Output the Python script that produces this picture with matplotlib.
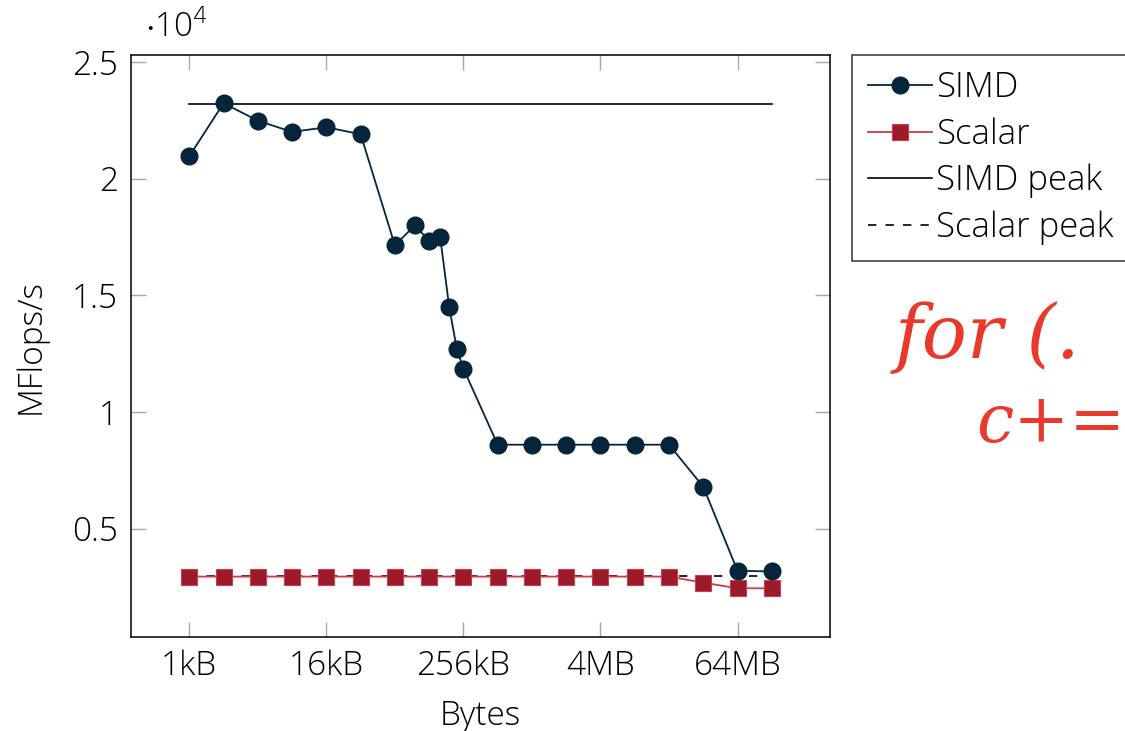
import numpy as np
import matplotlib
matplotlib.use('Agg')
import matplotlib.pyplot as plt

plt.rcParams['font.family'] = ['Open Sans', 'DejaVu Sans']
plt.rcParams['font.weight'] = 'light'
plt.rcParams['axes.labelweight'] = 'light'

# Bytes (log2 scale) and MFlops/s
simd_bytes = [2**10, 2**11, 2**12, 2**13, 2**14, 2**15, 2**16,
              96 * 2**10, 128 * 2**10, 160 * 2**10, 192 * 2**10, 224 * 2**10,
              2**18, 2**19, 2**20, 2**21, 2**22, 2**23, 2**24, 2**25, 2**26, 2**27]
simd_mflops = [20960, 23230, 22480, 22000, 22200, 21900, 17140,
               18000, 17330, 17500, 14500, 12700,
               11860, 8600, 8600, 8600, 8600, 8600, 8600, 6800, 3200, 3170]

scalar_bytes = [2**k for k in range(10, 28)]
scalar_mflops = [2950, 2950, 2950, 2950, 2950, 2950, 2950, 2950, 2950,
                 2950, 2950, 2950, 2950, 2950, 2950, 2690, 2450, 2450]

simd_peak = 23200
scalar_peak = 2960

xticks = [2**10, 2**14, 2**18, 2**22, 2**26]
xticklabels = ['1kB', '16kB', '256kB', '4MB', '64MB']
yticks = [5000, 10000, 15000, 20000, 25000]
yticklabels = ['0.5', '1', '1.5', '2', '2.5']

navy = '#04253a'
red_fill = '#9b1b2b'
red_line = '#cf3b4c'

fig = plt.figure(figsize=(11.25, 7.31), dpi=100)
ax = fig.add_axes([0.1162, 0.1290, 0.6216, 0.7953])

ax.plot(simd_bytes, simd_mflops, color=navy, lw=1.3, marker='o', ms=12,
        mfc=navy, mec=navy, label='SIMD', zorder=4)
ax.plot(scalar_bytes, scalar_mflops, color=red_line, lw=1.3, marker='s', ms=11,
        mfc=red_fill, mec=red_line, mew=0.8, label='Scalar', zorder=3)
ax.plot([scalar_bytes[0], scalar_bytes[-1]], [simd_peak, simd_peak],
        color='black', lw=1.2, label='SIMD peak', zorder=2)
ax.plot([scalar_bytes[0], scalar_bytes[-1]], [scalar_peak, scalar_peak],
        color='black', lw=1.2, ls=(0, (5, 5.5)), label='Scalar peak', zorder=2)

ax.set_xscale('log', base=2)
ax.set_xlim(2**(10 - 1.71), 2**(27 + 1.70))
ax.set_ylim(375, 25280)
ax.set_xticks(xticks)
ax.set_xticklabels(xticklabels)
ax.minorticks_off()
ax.set_yticks(yticks)
ax.set_yticklabels(yticklabels)

ax.tick_params(direction='in', length=11, width=1, color='#a8a8a8',
               labelsize=24, top=True, right=True, pad=9)
for s in ax.spines.values():
    s.set_linewidth(1.1)

ax.set_xlabel('Bytes', fontsize=24, labelpad=12)
ax.set_ylabel('MFlops/s', fontsize=24, labelpad=18)
ax.text(0.02, 1.032, r'$\cdot$10$^4$', transform=ax.transAxes, fontsize=24,
        ha='left', va='baseline')

leg = fig.legend(loc='upper left', bbox_to_anchor=(0.7573, 0.9248),
                 borderaxespad=0, fontsize=25, frameon=True, fancybox=False,
                 edgecolor='black', handlelength=1.85, handletextpad=0.12,
                 labelspacing=0.35, borderpad=0.45)
leg.get_frame().set_linewidth(1.1)

# handwritten note
fig.text(0.795, 0.51, 'for (.', color='#e8392a', fontsize=54,
         style='italic', fontweight='normal', family='DejaVu Serif')
fig.text(0.868, 0.395, 'c+=', color='#e8392a', fontsize=48,
         style='italic', fontweight='normal', family='DejaVu Serif')

fig.savefig('out.png', dpi=100)
